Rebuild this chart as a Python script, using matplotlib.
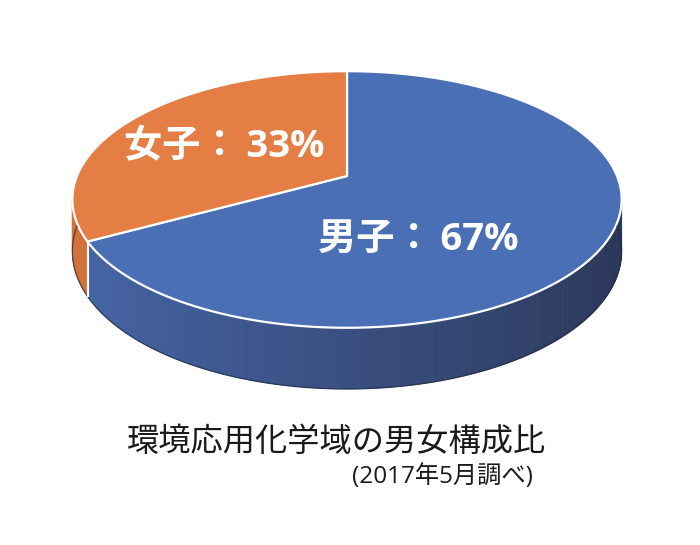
import numpy as np
import matplotlib
matplotlib.use('Agg')
from matplotlib import pyplot as plt
from matplotlib.patches import Polygon
from matplotlib.colors import to_rgb

plt.rcParams['font.family'] = ['Noto Sans CJK JP', 'DejaVu Sans']
latin_first = ['Open Sans', 'Noto Sans CJK JP', 'DejaVu Sans']

# data
labels = ['男子', '女子']
shares = [67, 33]
title = '環境応用化学域の男女構成比'
subtitle = '(2017年5月調べ)'

# styling
top_colors = ['#4a6fb5', '#e57e45']
side_left = ['#4768aa', '#d3733c']
side_right = ['#2b3656', '#b55d2b']

# pie geometry in pixel space (tilted disc with mild perspective)
cx, cy = 347, 176
rx, ry = 270, 124
persp = 0.183
depth = 50


def project(r, theta, drop=0.0):
    s = 1 + persp * r * np.sin(theta)
    x = cx + rx * r * np.cos(theta) / s
    y = cy - ry * r * np.sin(theta) / s + drop / s
    return x, y


def mix(c1, c2, t):
    a, b = np.array(to_rgb(c1)), np.array(to_rgb(c2))
    return tuple(a + (b - a) * t)


fig = plt.figure(figsize=(7, 5.45), dpi=100)
ax = fig.add_axes([0, 0, 1, 1])
ax.set_xlim(0, 700)
ax.set_ylim(545, 0)
ax.axis('off')

# slice edges, clockwise from 12 o'clock
frac = np.array(shares) / np.sum(shares)
edges = np.radians(90 - np.concatenate([[0], np.cumsum(frac)]) * 360)

# side wall: quads, back to front
quads = []
for i in range(len(shares)):
    th = np.linspace(edges[i], edges[i + 1], 200)
    for t0, t1 in zip(th[:-1], th[1:]):
        tm = 0.5 * (t0 + t1)
        if np.sin(tm) > 0.3:
            continue
        x0, y0 = project(1, t0)
        x1, y1 = project(1, t1)
        x2, y2 = project(1, t1, depth)
        x3, y3 = project(1, t0, depth)
        col = mix(side_left[i], side_right[i], (np.cos(tm) + 1) / 2)
        quads.append((np.sin(tm), [(x0, y0), (x1, y1), (x2, y2), (x3, y3)], col))
quads.sort(key=lambda q: -q[0])
for _, pts, col in quads:
    ax.add_patch(Polygon(pts, closed=True, facecolor=col, edgecolor=col, lw=0.6))

# bottom rim
th = np.linspace(np.pi * 1.0, np.pi * 2.0, 300)
bx, by = project(1, th, depth)
ax.plot(bx, by, color='#1e2740', lw=0.9, alpha=0.7)

# white seam between slices on the visible side
for e in edges[1:-1]:
    if np.sin(e) < 0:
        xa, ya = project(1, e)
        xb, yb = project(1, e, depth)
        ax.plot([xa, xb], [ya, yb], color='white', lw=1.5)

# top faces
for i in range(len(shares)):
    th = np.linspace(edges[i], edges[i + 1], 300)
    px, py = project(1, th)
    pts = [(cx, cy)] + list(zip(px, py))
    ax.add_patch(Polygon(pts, closed=True, facecolor=top_colors[i],
                         edgecolor='white', lw=1.6, joinstyle='round'))

# labels
ax.text(418, 240, f'{labels[0]}：\u2009{shares[0]}%', color='white', fontsize=27.5,
        fontweight='bold', ha='center', va='center', family=latin_first)
ax.text(224, 147, f'{labels[1]}：\u2009{shares[1]}%', color='white', fontsize=27.5,
        fontweight='bold', ha='center', va='center', family=latin_first)

# caption
ax.text(337, 442, title, fontsize=23.2, color='#1a1a1a', ha='center', va='center')
ax.text(533, 477, subtitle, fontsize=17.5, color='#1a1a1a', ha='right', va='center',
        family=latin_first)

plt.savefig('out.png', dpi=100)
